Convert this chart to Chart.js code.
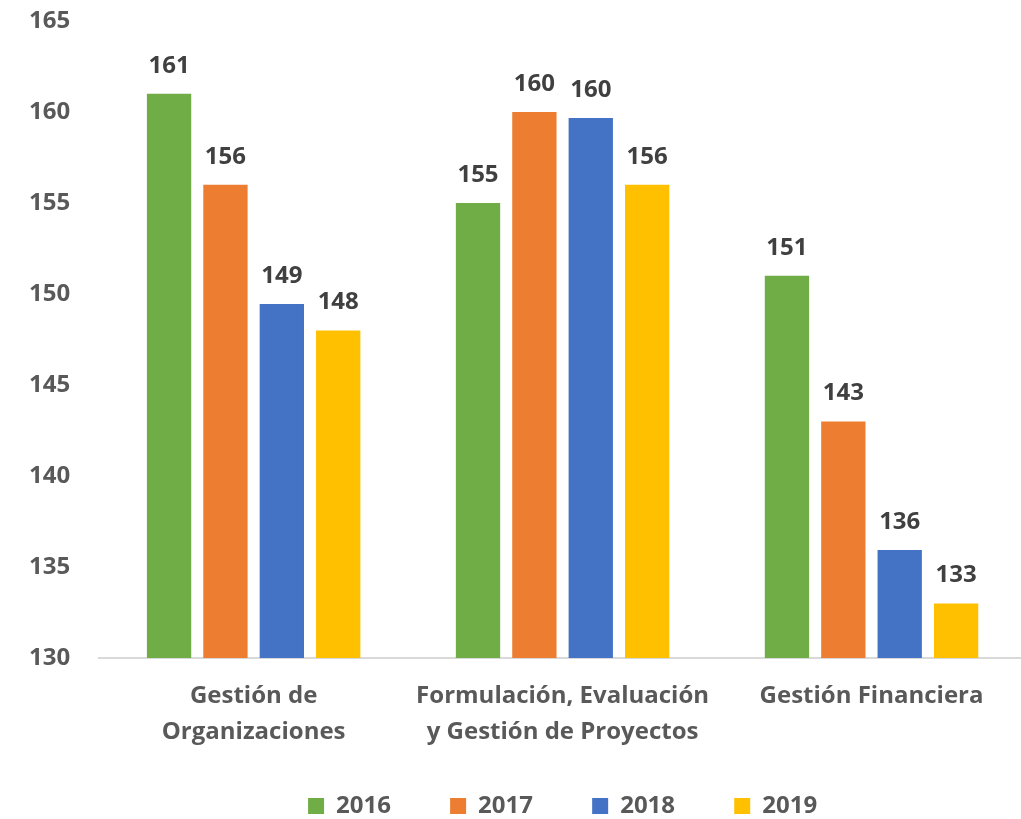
<!DOCTYPE html>
<html lang="es">
  <head>
    <meta charset="UTF-8" />
    <title>Puntajes por área</title>
    <script src="https://cdn.jsdelivr.net/npm/chart.js"></script>
    <style>
      html, body { margin: 0; padding: 0; background: #fff; overflow: hidden; }
      /* slightly larger than the window: the empty margin falls outside the shot */
      #wrap { width: 1030px; height: 828px; position: relative; }
    </style>
  </head>
  <body>
    <div id="wrap"><canvas id="chart"></canvas></div>

    <script>
      // categories (multi-line labels) and one array per year
      const categories = [
        ['Gestión de', 'Organizaciones'],
        ['Formulación, Evaluación', 'y Gestión de Proyectos'],
        ['Gestión Financiera']
      ];
      const years = ['2016', '2017', '2018', '2019'];
      const values2016 = [161, 155, 151];
      const values2017 = [156, 160, 143];
      const values2018 = [149.45, 159.67, 135.93];
      const values2019 = [148, 156, 133];
      const yTicks = { min: 130, max: 165, step: 5 };

      const colors = ['#70AD47', '#ED7D31', '#4472C4', '#FFC000'];
      const fontFamily = "'Open Sans', 'DejaVu Sans', sans-serif";

      // draws the rounded value above each bar
      const valueLabels = {
        id: 'valueLabels',
        afterDatasetsDraw(chart) {
          const ctx = chart.ctx;
          ctx.save();
          ctx.font = 'bold 24px ' + fontFamily;
          ctx.fillStyle = '#404040';
          ctx.textAlign = 'center';
          ctx.textBaseline = 'alphabetic';
          chart.data.datasets.forEach((ds, i) => {
            chart.getDatasetMeta(i).data.forEach((bar, j) => {
              ctx.fillText(Math.round(ds.data[j]), bar.x, bar.y - 21);
            });
          });
          ctx.restore();
        }
      };

      const seriesValues = [values2016, values2017, values2018, values2019];

      new Chart(document.getElementById('chart'), {
        type: 'bar',
        data: {
          labels: categories,
          datasets: years.map((y, i) => ({
            label: y,
            data: seriesValues[i],
            backgroundColor: colors[i],
            categoryPercentage: 0.73,
            barPercentage: 0.786
          }))
        },
        options: {
          responsive: true,
          maintainAspectRatio: false,
          animation: false,
          layout: { autoPadding: false, padding: { top: 21, left: 0, right: 4, bottom: 0 } },
          plugins: {
            tooltip: { enabled: false },
            legend: {
              position: 'bottom',
              fullSize: false,
              labels: {
                boxWidth: 16,
                boxHeight: 16,
                padding: 24,
                color: '#595959',
                font: { family: fontFamily, size: 24, weight: 'bold' },
                // a little extra room after each entry except the last
                generateLabels(chart) {
                  const items = Chart.defaults.plugins.legend.labels.generateLabels(chart);
                  items.forEach((it, i) => {
                    it.lineWidth = 0;
                    if (i < items.length - 1) it.text = it.text + '     \u2009';
                  });
                  return items;
                }
              }
            }
          },
          scales: {
            x: {
              grid: { display: false, drawTicks: false },
              border: { display: true, color: '#D9D9D9', width: 2 },
              ticks: {
                padding: 20,
                color: '#595959',
                maxRotation: 0,
                autoSkip: false,
                font: { family: fontFamily, size: 24, weight: 'bold', lineHeight: 1.5 }
              }
            },
            y: {
              min: yTicks.min,
              max: yTicks.max,
              grid: { display: false, drawTicks: false },
              border: { display: false },
              afterFit(scale) { scale.paddingTop = 0; },
              ticks: {
                stepSize: yTicks.step,
                padding: 29,
                color: '#595959',
                font: { family: fontFamily, size: 24, weight: 'bold' }
              }
            }
          }
        },
        plugins: [valueLabels]
      });
    </script>
  </body>
</html>
